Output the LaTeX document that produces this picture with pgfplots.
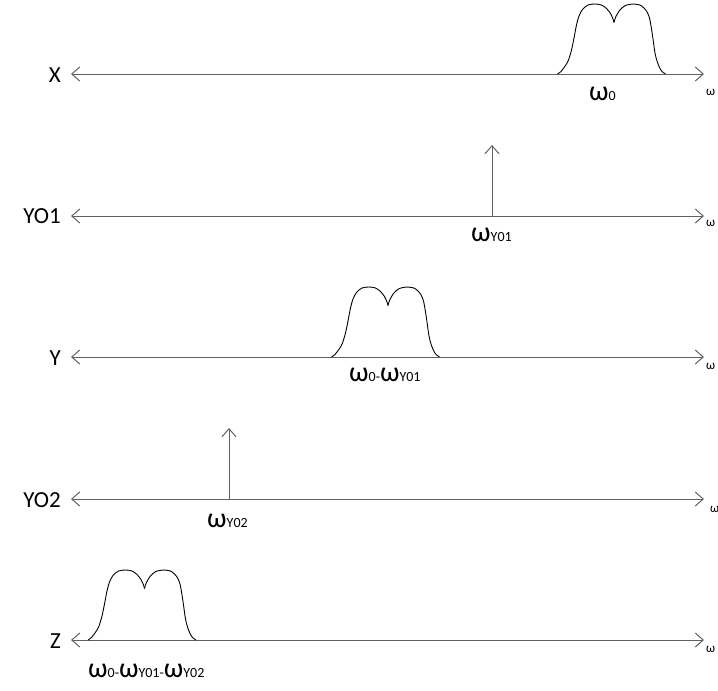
\documentclass[border=0pt]{standalone}
\usepackage{fontspec}
\setmainfont{Carlito}
\usepackage{pgfplots}
\pgfplotsset{compat=1.18}
\usetikzlibrary{arrows.meta}
\newcommand{\sm}[1]{{\fontsize{14}{16}\selectfont #1}}
\begin{document}
\begin{tikzpicture}[
  axisline/.style={color=black!62, line width=1pt,
    {Straight Barb[length=8pt,width=14pt]}-{Straight Barb[length=8pt,width=14pt]}},
  spike/.style={color=black!62, line width=1pt, -{Straight Barb[length=8pt,width=14pt]}},
  bump/.style={black, line width=0.9pt, smooth},
  lab/.style={anchor=base east, inner sep=0pt, font=\fontsize{23}{27}\selectfont},
  wl/.style={anchor=base west, inner sep=0pt, font=\fontsize{28}{32}\selectfont},
  ws/.style={anchor=base west, inner sep=0pt, font=\fontsize{13}{15}\selectfont},
]
\begin{axis}[
  scale only axis, width=718pt, height=691pt,
  xmin=0, xmax=718, ymin=0, ymax=691, y dir=reverse,
  hide axis, clip=false,
]
% axis lines
\addplot[axisline, no marks] coordinates {(71,74) (704,74)};
\addplot[axisline, no marks] coordinates {(71,216) (704,216)};
\addplot[axisline, no marks] coordinates {(71,357) (704,357)};
\addplot[axisline, no marks] coordinates {(71,499) (704,499)};
\addplot[axisline, no marks] coordinates {(71,640) (704,640)};
% spikes
\addplot[spike, no marks] coordinates {(492,216) (492,145)};
\addplot[spike, no marks] coordinates {(229,499) (229,428)};
% bump row 1
\addplot[bump, no marks] coordinates {(557.5,74) (561,71.5) (563.5,68.3) (566.5,64) (568.5,60) (571.5,50) (574,38) (576.5,25) (579,16) (582.5,9.5) (588,5) (595,4) (601.5,5) (606.5,8.5) (610.5,13.5) (613,19) (614,22.5)};
\addplot[bump, no marks] coordinates {(614,22.5) (615.5,17.5) (619.5,10.5) (625,5.7) (633,4) (641,5.5) (646.5,11) (649.5,18) (651.5,29) (653,39) (655,53) (657,61) (659.5,67.5) (662,71.5) (665.5,74)};
% bump row 3
\addplot[bump, no marks] coordinates {(331.5,357) (335,354.5) (337.5,351.3) (340.5,347) (342.5,343) (345.5,333) (348,321) (350.5,308) (353,299) (356.5,292.5) (362,288) (369,287) (375.5,288) (380.5,291.5) (384.5,296.5) (387,302) (388,305.5)};
\addplot[bump, no marks] coordinates {(388,305.5) (389.5,300.5) (393.5,293.5) (399,288.7) (407,287) (415,288.5) (420.5,294) (423.5,301) (425.5,312) (427,322) (429,336) (431,344) (433.5,350.5) (436,354.5) (439.5,357)};
% bump row 5
\addplot[bump, no marks] coordinates {(88,640) (91.5,637.5) (94,634.3) (97,630) (99,626) (102,616) (104.5,604) (107,591) (109.5,582) (113,575.5) (118.5,571) (125.5,570) (132,571) (137,574.5) (141,579.5) (143.5,585) (144.5,588.5)};
\addplot[bump, no marks] coordinates {(144.5,588.5) (146,583.5) (150,576.5) (155.5,571.7) (163.5,570) (171.5,571.5) (177,577) (180,584) (182,595) (183.5,605) (185.5,619) (187.5,627) (190,633.5) (192.5,637.5) (196,640)};
% row labels
\node[lab] at (axis cs:61,82) {X};
\node[lab] at (axis cs:61,223) {YO1};
\node[lab] at (axis cs:61,365) {Y};
\node[lab] at (axis cs:61,507) {YO2};
\node[lab] at (axis cs:61,648) {Z};
% frequency labels
\node[wl] at (axis cs:589,100) {ω\sm{0}};
\node[wl] at (axis cs:471,241) {ω\sm{Y01}};
\node[wl] at (axis cs:349,381) {ω\sm{0-}ω\sm{Y01}};
\node[wl] at (axis cs:207,527) {ω\sm{Y02}};
\node[wl] at (axis cs:88,677) {ω\sm{0-}ω\sm{Y01-}ω\sm{Y02}};
% small omega at right
\node[ws] at (axis cs:706,95) {ω};
\node[ws] at (axis cs:706,226) {ω};
\node[ws] at (axis cs:706,369) {ω};
\node[ws] at (axis cs:710,512) {ω};
\node[ws] at (axis cs:706,652) {ω};
\end{axis}
\pgfresetboundingbox
\useasboundingbox (0,0) rectangle (718pt,691pt);
\end{tikzpicture}
\end{document}
